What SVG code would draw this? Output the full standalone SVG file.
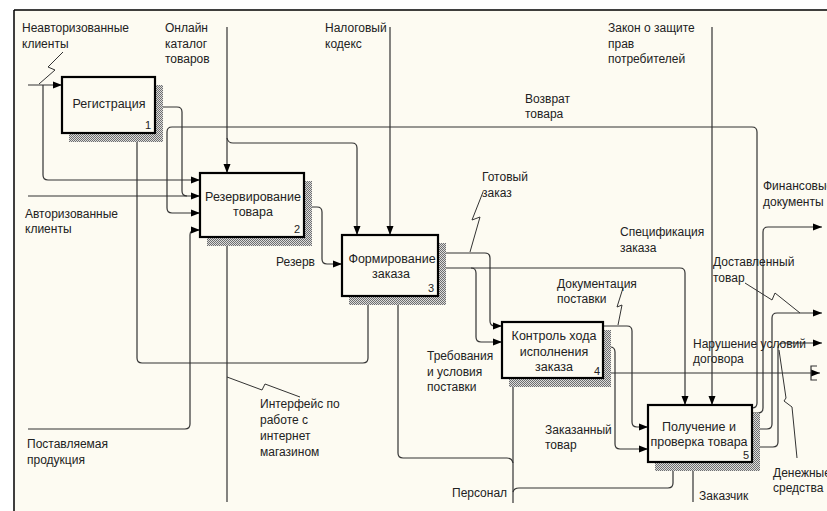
<svg xmlns="http://www.w3.org/2000/svg" width="827" height="511" viewBox="0 0 827 511">
<defs>
<pattern id="hatch" width="2" height="2" patternUnits="userSpaceOnUse"><rect width="2" height="2" fill="#dcdcdc"/><rect width="1" height="1" fill="#6e6e6e"/><rect x="1" y="1" width="1" height="1" fill="#6e6e6e"/></pattern>
<marker id="arr" markerWidth="9" markerHeight="8" refX="9" refY="4" orient="auto" markerUnits="userSpaceOnUse"><path d="M0,0.5 L9,4 L0,7.5 Z" fill="#000"/></marker>
</defs>
<style>
.box{fill:#fdfbf2;stroke:#000;stroke-width:2.2}
.sh{fill:url(#hatch)}
.c{fill:none;stroke:#333;stroke-width:1.2}
.a{marker-end:url(#arr)}
.sq{fill:none;stroke:#333;stroke-width:1}
text{font-family:"Liberation Sans",Arial,sans-serif;font-size:12px;fill:#222}
.bt{font-size:12.5px;text-anchor:middle}
.num{font-size:11px}
</style>
<rect x="0" y="0" width="827" height="511" fill="#ffffff"/>
<rect x="14" y="10" width="813" height="501" fill="#fdfbf2"/>
<path d="M14,10 H827 M14,10 V511" stroke="#000" stroke-width="1.5" fill="none"/>

<g id="connectors">
<path class="c a" d="M28,85 H62"/>
<path class="c a" d="M43,85 V175 Q43,180 48,180 H200"/>
<path class="sq" d="M63,52 L48,67 L55,70 L39,84"/>
<path class="c a" d="M28,196 H200"/>
<path class="c" d="M155,107 H177 Q182,107 182,112 V191 Q182,196 187,196"/>
<path class="c a" d="M752,408 Q757,408 757,403 V132 Q757,127 752,127 H172 Q167,127 167,132 V208 Q167,213 172,213 H200"/>
<path class="c a" d="M28,429 H185 Q190,429 190,424 V235 Q190,230 195,230 H200"/>
<path class="c a" d="M227,27 V173"/>
<path class="c a" d="M227,138 Q228,143 233,143 H352 Q357,143 357,148 V235"/>
<path class="c a" d="M390,27 V235"/>
<path class="c a" d="M712,27 V405"/>
<path class="c a" d="M305,207 H317 Q322,207 322,212 V259 Q322,264 327,264 H342"/>
<path class="c a" d="M438,253 H485 Q490,253 490,258 V321 Q490,326 495,326 H502"/>
<path class="sq" d="M483,192 L472,220 L480,217 L470,252"/>
<path class="c a" d="M438,268 H680 Q685,268 685,273 V405"/>
<path class="c a" d="M471,268 Q476,268 476,273 V337 Q476,342 481,342 H502"/>
<path class="c a" d="M603,326 H627 Q632,326 632,331 V422 Q632,427 637,427 H648"/>
<path class="sq" d="M623,288 L617,307 L622,305 L618,325"/>
<path class="c a" d="M603,347 H610 Q615,347 615,352 V444 Q615,449 620,449 H648"/>
<path class="c a" d="M603,373 H820"/>
<path class="c" d="M817,366 H811 V380 H817"/>
<path class="c a" d="M752,413 H758 Q763,413 763,408 V232 Q763,227 768,227 H822"/>
<path class="c a" d="M752,429 H767 Q772,429 772,424 V318 Q772,313 777,313 H822"/>
<path class="sq" d="M745,283 L772,300 L775,293 L800,313"/>
<path class="c a" d="M752,447 H773 Q778,447 778,442 V348 Q778,343 783,343 H822"/>
<path class="sq" d="M797,458 L792,407 L784,401 L786,398 L779,350"/>
<path class="c a" d="M227,502 V237"/>
<path class="c a" d="M227,363 H142 Q137,363 137,358 V133"/>
<path class="c a" d="M227,363 H363 Q368,363 368,358 V296"/>
<path class="sq" d="M227,377 L262,390 L265,384 L300,397"/>
<path class="c a" d="M513,503 V378"/>
<path class="c a" d="M513,463 Q512,458 507,458 H403 Q398,458 398,453 V296"/>
<path class="c a" d="M513,492 Q514,488 519,488 H668 Q673,488 673,483 V462"/>
<path class="c a" d="M693,502 V462"/>
</g>

<g id="node1">
<rect class="sh" x="69" y="85" width="94" height="57"/>
<rect class="box" x="62" y="77" width="93" height="56"/>
<text class="bt" x="109" y="108">Регистрация</text>
<text class="num" x="145" y="129">1</text>
</g>
<g id="node2">
<rect class="sh" x="207" y="181" width="105" height="65"/>
<rect class="box" x="200" y="173" width="104" height="64"/>
<text class="bt" x="253" y="201">Резервирование</text>
<text class="bt" x="253" y="216">товара</text>
<text class="num" x="294" y="233">2</text>
</g>
<g id="node3">
<rect class="sh" x="349" y="243" width="97" height="62"/>
<rect class="box" x="342" y="235" width="96" height="61"/>
<text class="bt" x="392" y="263">Формирование</text>
<text class="bt" x="391" y="278">заказа</text>
<text class="num" x="428" y="292">3</text>
</g>
<g id="node4">
<rect class="sh" x="509" y="330" width="102" height="57"/>
<rect class="box" x="502" y="322" width="101" height="56"/>
<text class="bt" x="554" y="340">Контроль хода</text>
<text class="bt" x="554" y="356">исполнения</text>
<text class="bt" x="554" y="371">заказа</text>
<text class="num" x="594" y="375">4</text>
</g>
<g id="node5">
<rect class="sh" x="655" y="413" width="105" height="58"/>
<rect class="box" x="648" y="405" width="104" height="57"/>
<text class="bt" x="699" y="431">Получение и</text>
<text class="bt" x="699" y="446">проверка товара</text>
<text class="num" x="743" y="459">5</text>
</g>

<g id="labels">
<text x="22" y="32">Неавторизованные</text>
<text x="22" y="47.5">клиенты</text>
<text x="165" y="32">Онлайн</text>
<text x="165" y="47.5">каталог</text>
<text x="165" y="63">товаров</text>
<text x="325" y="32">Налоговый</text>
<text x="325" y="47.5">кодекс</text>
<text x="608" y="32">Закон о защите</text>
<text x="608" y="47.5">прав</text>
<text x="608" y="63">потребителей</text>
<text x="525" y="103">Возврат</text>
<text x="525" y="118">товара</text>
<text x="25" y="218">Авторизованные</text>
<text x="25" y="233">клиенты</text>
<text x="276" y="266">Резерв</text>
<text x="482" y="181">Готовый</text>
<text x="482" y="196.5">заказ</text>
<text x="620" y="236">Спецификация</text>
<text x="620" y="252">заказа</text>
<text x="763" y="190">Финансовые</text>
<text x="763" y="206">документы</text>
<text x="713" y="266">Доставленный</text>
<text x="713" y="282">товар</text>
<text x="557" y="288">Документация</text>
<text x="557" y="303">поставки</text>
<text x="427" y="360">Требования</text>
<text x="427" y="376">и условия</text>
<text x="427" y="391">поставки</text>
<text x="693" y="348">Нарушение условий</text>
<text x="693" y="363">договора</text>
<text x="545" y="434">Заказанный</text>
<text x="545" y="449">товар</text>
<text x="773" y="477">Денежные</text>
<text x="773" y="492">средства</text>
<text x="699" y="500">Заказчик</text>
<text x="452" y="497">Персонал</text>
<text x="260" y="408">Интерфейс по</text>
<text x="260" y="424">работе с</text>
<text x="260" y="440">интернет</text>
<text x="260" y="456">магазином</text>
<text x="27" y="448">Поставляемая</text>
<text x="27" y="464">продукция</text>
</g>
</svg>
